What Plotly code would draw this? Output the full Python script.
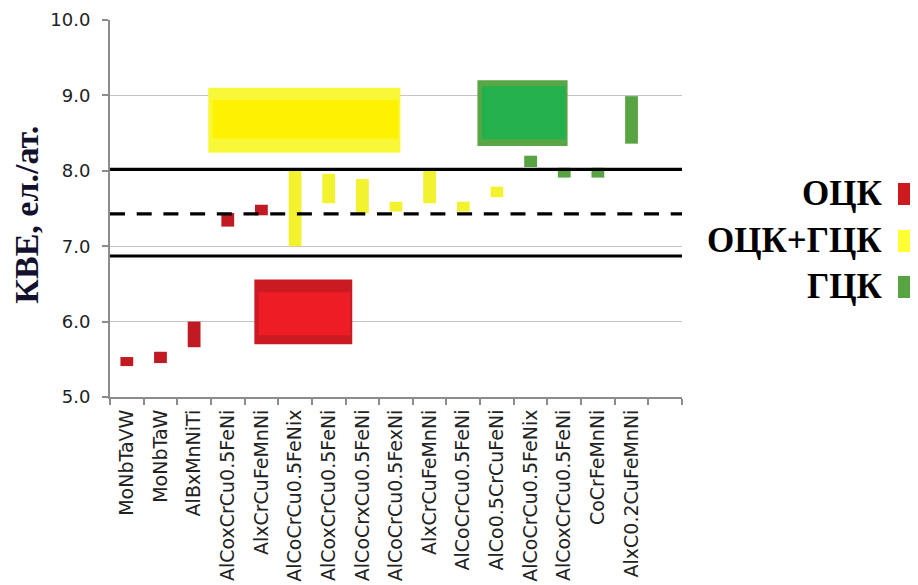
import plotly.graph_objects as go

# ---------------- data ----------------
alloys = ["MoNbTaVW", "MoNbTaW", "AlBxMnNiTi", "AlCoxCrCu0.5FeNi", "AlxCrCuFeMnNi",
          "AlCoCrCu0.5FeNix", "AlCoxCrCu0.5FeNi", "AlCoCrxCu0.5FeNi", "AlCoCrCu0.5FexNi",
          "AlxCrCuFeMnNi", "AlCoCrCu0.5FeNi", "AlCo0.5CrCuFeNi", "AlCoCrCu0.5FeNix",
          "AlCoxCrCu0.5FeNi", "CoCrFeMnNi", "AlxC0.2CuFeMnNi"]
phase = ["ОЦК", "ОЦК", "ОЦК", "ОЦК", "ОЦК",
         "ОЦК+ГЦК", "ОЦК+ГЦК", "ОЦК+ГЦК", "ОЦК+ГЦК", "ОЦК+ГЦК", "ОЦК+ГЦК", "ОЦК+ГЦК",
         "ГЦК", "ГЦК", "ГЦК", "ГЦК"]
kve_low = [5.41, 5.45, 5.66, 7.26, 7.41, 7.00, 7.57, 7.44, 7.46, 7.57, 7.46, 7.65, 8.05, 7.91, 7.91, 8.36]
kve_high = [5.53, 5.60, 6.00, 7.44, 7.55, 8.01, 7.96, 7.89, 7.59, 8.01, 7.59, 7.79, 8.20, 8.04, 8.04, 8.99]

# large regions (x in category-index units)
region_phase = ["ОЦК+ГЦК", "ОЦК", "ГЦК"]
region_x0 = [2.42, 3.79, 10.42]
region_x1 = [8.13, 6.70, 13.10]
region_y0 = [8.24, 5.70, 8.33]
region_y1 = [9.10, 6.56, 9.20]
core_y0 = [8.43, 5.82, 8.42]
core_y1 = [8.94, 6.39, 9.12]

# reference levels
ref_levels = [8.02, 7.43, 6.87]
ref_dash = ["solid", "15px,11.7px", "solid"]

legend_labels = ["ОЦК", "ОЦК+ГЦК", "ГЦК"]
yticks = [5.0, 6.0, 7.0, 8.0, 9.0, 10.0]

# ---------------- styles ----------------
bar_color = {"ОЦК": "#C11A22", "ОЦК+ГЦК": "#F2F22E", "ГЦК": "#58A443"}
region_outer = {"ОЦК": "#CB1B22", "ОЦК+ГЦК": "#F8F838", "ГЦК": "#59A645"}
region_inner = {"ОЦК": "#EE1C25", "ОЦК+ГЦК": "#FFF200", "ГЦК": "#22B14C"}
legend_color = {"ОЦК": "#CC1A1E", "ОЦК+ГЦК": "#FFFF33", "ГЦК": "#58A443"}

n_slots = len(alloys) + 1
fig = go.Figure()

for ph in legend_labels:
    idx = [i for i, p in enumerate(phase) if p == ph]
    fig.add_trace(go.Bar(
        x=idx,
        base=[kve_low[i] for i in idx],
        y=[kve_high[i] - kve_low[i] for i in idx],
        width=0.38,
        marker=dict(color=bar_color[ph], line=dict(width=0)),
        showlegend=False,
        hoverinfo="skip",
    ))

for ph, x0, x1, y0, y1, cy0, cy1 in zip(region_phase, region_x0, region_x1,
                                         region_y0, region_y1, core_y0, core_y1):
    fig.add_shape(type="rect", xref="x", yref="y", x0=x0, x1=x1, y0=y0, y1=y1,
                  fillcolor=region_outer[ph], line=dict(width=0), layer="between")
    fig.add_shape(type="rect", xref="x", yref="y", x0=x0 + 0.13, x1=x1 - 0.06, y0=cy0, y1=cy1,
                  fillcolor=region_inner[ph], line=dict(width=0), layer="between")

for lv, ds in zip(ref_levels, ref_dash):
    fig.add_shape(type="line", xref="x domain", yref="y", x0=0, x1=1, y0=lv, y1=lv,
                  line=dict(color="#000000", width=3.2, dash=ds), layer="above")

# legend (text left of swatch)
leg_y = [0.5385, 0.4138, 0.2918]
for lab, ly in zip(legend_labels, leg_y):
    fig.add_annotation(xref="paper", yref="paper", x=1.354, y=ly, text="<b>" + lab + "</b>",
                       showarrow=False, xanchor="right", yanchor="middle",
                       font=dict(family="Liberation Serif", size=35, color="#000000"))
    fig.add_shape(type="rect", xref="paper", yref="paper", x0=1.3776, x1=1.45,
                  y0=ly - 0.029, y1=ly + 0.029, fillcolor=legend_color[lab],
                  line=dict(width=0), layer="above")

fig.add_annotation(xref="paper", yref="paper", x=-0.146, y=0.485, text="<b>КВЕ, ел./ат.</b>",
                   textangle=-90, showarrow=False, xanchor="center", yanchor="middle",
                   height=32, borderpad=0,
                   font=dict(family="Liberation Serif", size=34, color="#12122e"))

# page body adds an 8px offset; size the figure so it ends at the window edge
fig.update_layout(
    width=910, height=577,
    margin=dict(l=102, r=236, t=12, b=188),
    paper_bgcolor="white", plot_bgcolor="white",
    barmode="overlay",
    showlegend=False,
)
fig.update_xaxes(
    automargin=False,
    range=[-0.5, n_slots - 0.5],
    tickmode="array", tickvals=list(range(len(alloys))), ticktext=alloys,
    tickangle=-90, ticks="", showgrid=False, zeroline=False,
    showline=True, linecolor="#8c8c8c", linewidth=2,
    tickfont=dict(family="DejaVu Sans", size=19, color="#222222"),
    ticklabelstandoff=3,
    minor=dict(tickmode="linear", tick0=-0.5, dtick=1, ticks="outside", ticklen=6,
               tickcolor="#8c8c8c", tickwidth=2, showgrid=False),
)
fig.update_yaxes(
    automargin=False,
    range=[5, 10], tickmode="array", tickvals=yticks, tickformat=".1f",
    ticks="outside", ticklen=6, tickcolor="#8c8c8c", tickwidth=2,
    showgrid=True, gridcolor="#c4c4c4", gridwidth=1, zeroline=False,
    showline=True, linecolor="#8c8c8c", linewidth=2,
    tickfont=dict(family="DejaVu Sans", size=18, color="#222222"),
    ticklabelstandoff=8,
)

fig.write_html("out.html")
